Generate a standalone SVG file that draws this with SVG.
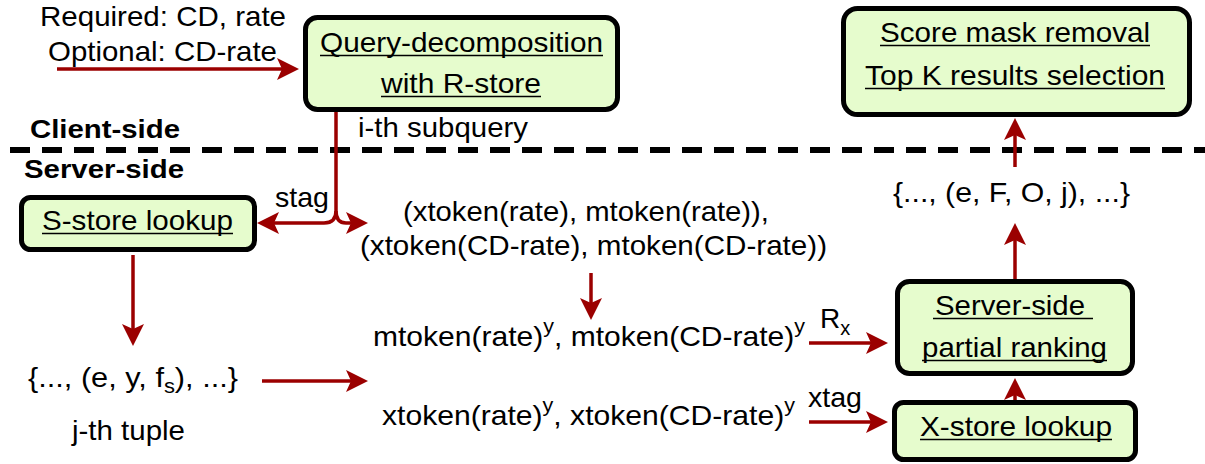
<svg xmlns="http://www.w3.org/2000/svg" width="1205" height="464" viewBox="0 0 1205 464">
<style>
  text { font-family: "Liberation Sans", Arial, sans-serif; font-size: 28px; fill: #000; }
  .b { font-weight: bold; font-size: 26px; }
  .box { fill: #e6fccd; stroke: #000; stroke-width: 5; }
  .ul { stroke: #000; stroke-width: 1.6; }
  .arr { fill: none; stroke: #9b0000; stroke-width: 3.5; marker-end: url(#ah); }
</style>
<defs>
  <marker id="ah" markerUnits="userSpaceOnUse" viewBox="0 0 22 22" markerWidth="22" markerHeight="22" refX="5" refY="11" orient="auto">
    <path d="M0,0 L22,11 L0,22 L5,11 Z" fill="#9b0000"/>
  </marker>
</defs>
<rect width="1205" height="464" fill="#fff"/>

<g id="labels">
  <text x="40" y="26" textLength="246" lengthAdjust="spacingAndGlyphs">Required: CD, rate</text>
  <text x="48" y="61" textLength="229" lengthAdjust="spacingAndGlyphs">Optional: CD-rate</text>
  <text class="b" x="30" y="138" textLength="150" lengthAdjust="spacingAndGlyphs">Client-side</text>
  <text class="b" x="24" y="178" textLength="160" lengthAdjust="spacingAndGlyphs">Server-side</text>
  <text x="358" y="137" textLength="170" lengthAdjust="spacingAndGlyphs">i-th subquery</text>
  <text x="275" y="207" textLength="54" lengthAdjust="spacingAndGlyphs">stag</text>
  <text x="403" y="221" textLength="366" lengthAdjust="spacingAndGlyphs">(xtoken(rate), mtoken(rate)),</text>
  <text x="360" y="255" textLength="467" lengthAdjust="spacingAndGlyphs">(xtoken(CD-rate), mtoken(CD-rate))</text>
  <text x="373" y="346" textLength="432" lengthAdjust="spacingAndGlyphs">mtoken(rate)<tspan dy="-13" font-size="20">y</tspan><tspan dy="13">, mtoken(CD-rate)</tspan><tspan dy="-13" font-size="20">y</tspan></text>
  <text x="382" y="425" textLength="413" lengthAdjust="spacingAndGlyphs">xtoken(rate)<tspan dy="-13" font-size="20">y</tspan><tspan dy="13">, xtoken(CD-rate)</tspan><tspan dy="-13" font-size="20">y</tspan></text>
  <text x="820" y="328">R<tspan dy="7" font-size="20">x</tspan></text>
  <text x="808" y="407" textLength="54" lengthAdjust="spacingAndGlyphs">xtag</text>
  <text x="28" y="387" textLength="210" lengthAdjust="spacingAndGlyphs">{..., (e, y, f<tspan dy="6" font-size="20">s</tspan><tspan dy="-6">), ...}</tspan></text>
  <text x="72" y="440" textLength="113" lengthAdjust="spacingAndGlyphs">j-th tuple</text>
  <text x="893" y="202" textLength="237" lengthAdjust="spacingAndGlyphs">{..., (e, F, O, j), ...}</text>
</g>

<line x1="10" y1="150" x2="1205" y2="150" stroke="#000" stroke-width="6" stroke-dasharray="20 12"/>

<g id="connectors">
  <path class="arr" d="M57,69 H282"/>
  <path class="arr" d="M336,112 V211 Q336,223 324,223 H274"/>
  <path class="arr" d="M336,211 Q336,223 346,223 H351"/>
  <path class="arr" d="M133,255 V329"/>
  <path class="arr" d="M262,381 H351"/>
  <path class="arr" d="M591,273 V303"/>
  <path class="arr" d="M809,343 H871"/>
  <path class="arr" d="M809,422 H871"/>
  <path class="arr" d="M1015,402 V395"/>
  <path class="arr" d="M1015,279 V240"/>
  <path class="arr" d="M1015,167 V135"/>
</g>

<g id="query-decomposition">
  <rect class="box" x="305.5" y="17.5" width="312" height="92" rx="12"/>
  <text x="320" y="52" textLength="283" lengthAdjust="spacingAndGlyphs">Query-decomposition</text>
  <line class="ul" x1="320" y1="55.5" x2="603" y2="55.5"/>
  <text x="381" y="93" textLength="160" lengthAdjust="spacingAndGlyphs">with R-store</text>
  <line class="ul" x1="381" y1="96.5" x2="541" y2="96.5"/>
</g>

<g id="score-mask">
  <rect class="box" x="843.5" y="8.5" width="346" height="106" rx="14"/>
  <text x="880" y="42" textLength="270" lengthAdjust="spacingAndGlyphs">Score mask removal</text>
  <line class="ul" x1="880" y1="45.5" x2="1150" y2="45.5"/>
  <text x="865" y="85" textLength="300" lengthAdjust="spacingAndGlyphs">Top K results selection</text>
  <line class="ul" x1="865" y1="88.5" x2="1165" y2="88.5"/>
</g>

<g id="s-store">
  <rect class="box" x="21.5" y="197.5" width="233" height="52" rx="9"/>
  <text x="42" y="230" textLength="191" lengthAdjust="spacingAndGlyphs">S-store lookup</text>
  <line class="ul" x1="42" y1="233.5" x2="233" y2="233.5"/>
</g>

<g id="partial-ranking">
  <rect class="box" x="897.5" y="281.5" width="235" height="92" rx="12"/>
  <text x="935" y="315" textLength="150" lengthAdjust="spacingAndGlyphs">Server-side</text>
  <line class="ul" x1="933" y1="318.5" x2="1093" y2="318.5"/>
  <text x="922" y="357" textLength="185" lengthAdjust="spacingAndGlyphs">partial ranking</text>
  <line class="ul" x1="922" y1="360.5" x2="1107" y2="360.5"/>
</g>

<g id="x-store">
  <rect class="box" x="894.5" y="402.5" width="241" height="57" rx="9"/>
  <text x="920" y="436" textLength="192" lengthAdjust="spacingAndGlyphs">X-store lookup</text>
  <line class="ul" x1="920" y1="439.5" x2="1112" y2="439.5"/>
</g>
</svg>
